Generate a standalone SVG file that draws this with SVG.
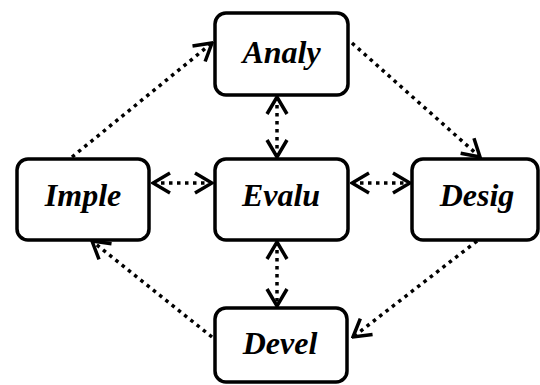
<svg xmlns="http://www.w3.org/2000/svg" width="540" height="385" viewBox="0 0 540 385">
<style>
.box{fill:#fff;stroke:#000;stroke-width:3.5}
.lbl{font-family:"Liberation Serif","Times New Roman",serif;font-weight:bold;font-style:italic;font-size:32px;fill:#000;text-anchor:middle}
.dot{fill:none;stroke:#000;stroke-width:3.5;stroke-dasharray:3.5 4.5}
.head{fill:none;stroke:#000;stroke-width:3.5;stroke-dasharray:none;stroke-linejoin:miter}
</style>
<defs>
<marker id="ah" viewBox="-20 -12 22 24" markerWidth="22" markerHeight="24" refX="0" refY="0" markerUnits="userSpaceOnUse" orient="auto-start-reverse">
<path class="head" d="M-17,-10 L0,0 L-17,10"/>
</marker>
</defs>
<g id="connectors">
<line class="dot" x1="153" y1="183" x2="212" y2="183" marker-start="url(#ah)" marker-end="url(#ah)"/>
<line class="dot" x1="352" y1="183" x2="410" y2="183" marker-start="url(#ah)" marker-end="url(#ah)"/>
<line class="dot" x1="277" y1="97" x2="277" y2="157" marker-start="url(#ah)" marker-end="url(#ah)"/>
<line class="dot" x1="277" y1="242" x2="277" y2="306" marker-start="url(#ah)" marker-end="url(#ah)"/>
<line class="dot" x1="72" y1="157" x2="212" y2="43" marker-end="url(#ah)"/>
<line class="dot" x1="352" y1="43" x2="480" y2="157" marker-end="url(#ah)"/>
<line class="dot" x1="477" y1="241" x2="353" y2="337" marker-end="url(#ah)"/>
<line class="dot" x1="212" y1="337" x2="92" y2="241" marker-end="url(#ah)"/>
</g>
<g id="analy"><rect class="box" x="215" y="13" width="133" height="82" rx="11"/><text class="lbl" x="281.5" y="63">Analy</text></g>
<g id="evalu"><rect class="box" x="215" y="159" width="133" height="81" rx="11"/><text class="lbl" x="281" y="206">Evalu</text></g>
<g id="imple"><rect class="box" x="17" y="159" width="132" height="81" rx="11"/><text class="lbl" x="83" y="206">Imple</text></g>
<g id="desig"><rect class="box" x="412" y="159" width="126" height="81" rx="11"/><text class="lbl" x="477" y="206">Desig</text></g>
<g id="devel"><rect class="box" x="215" y="308" width="132" height="74" rx="11"/><text class="lbl" x="280" y="354">Devel</text></g>
</svg>
